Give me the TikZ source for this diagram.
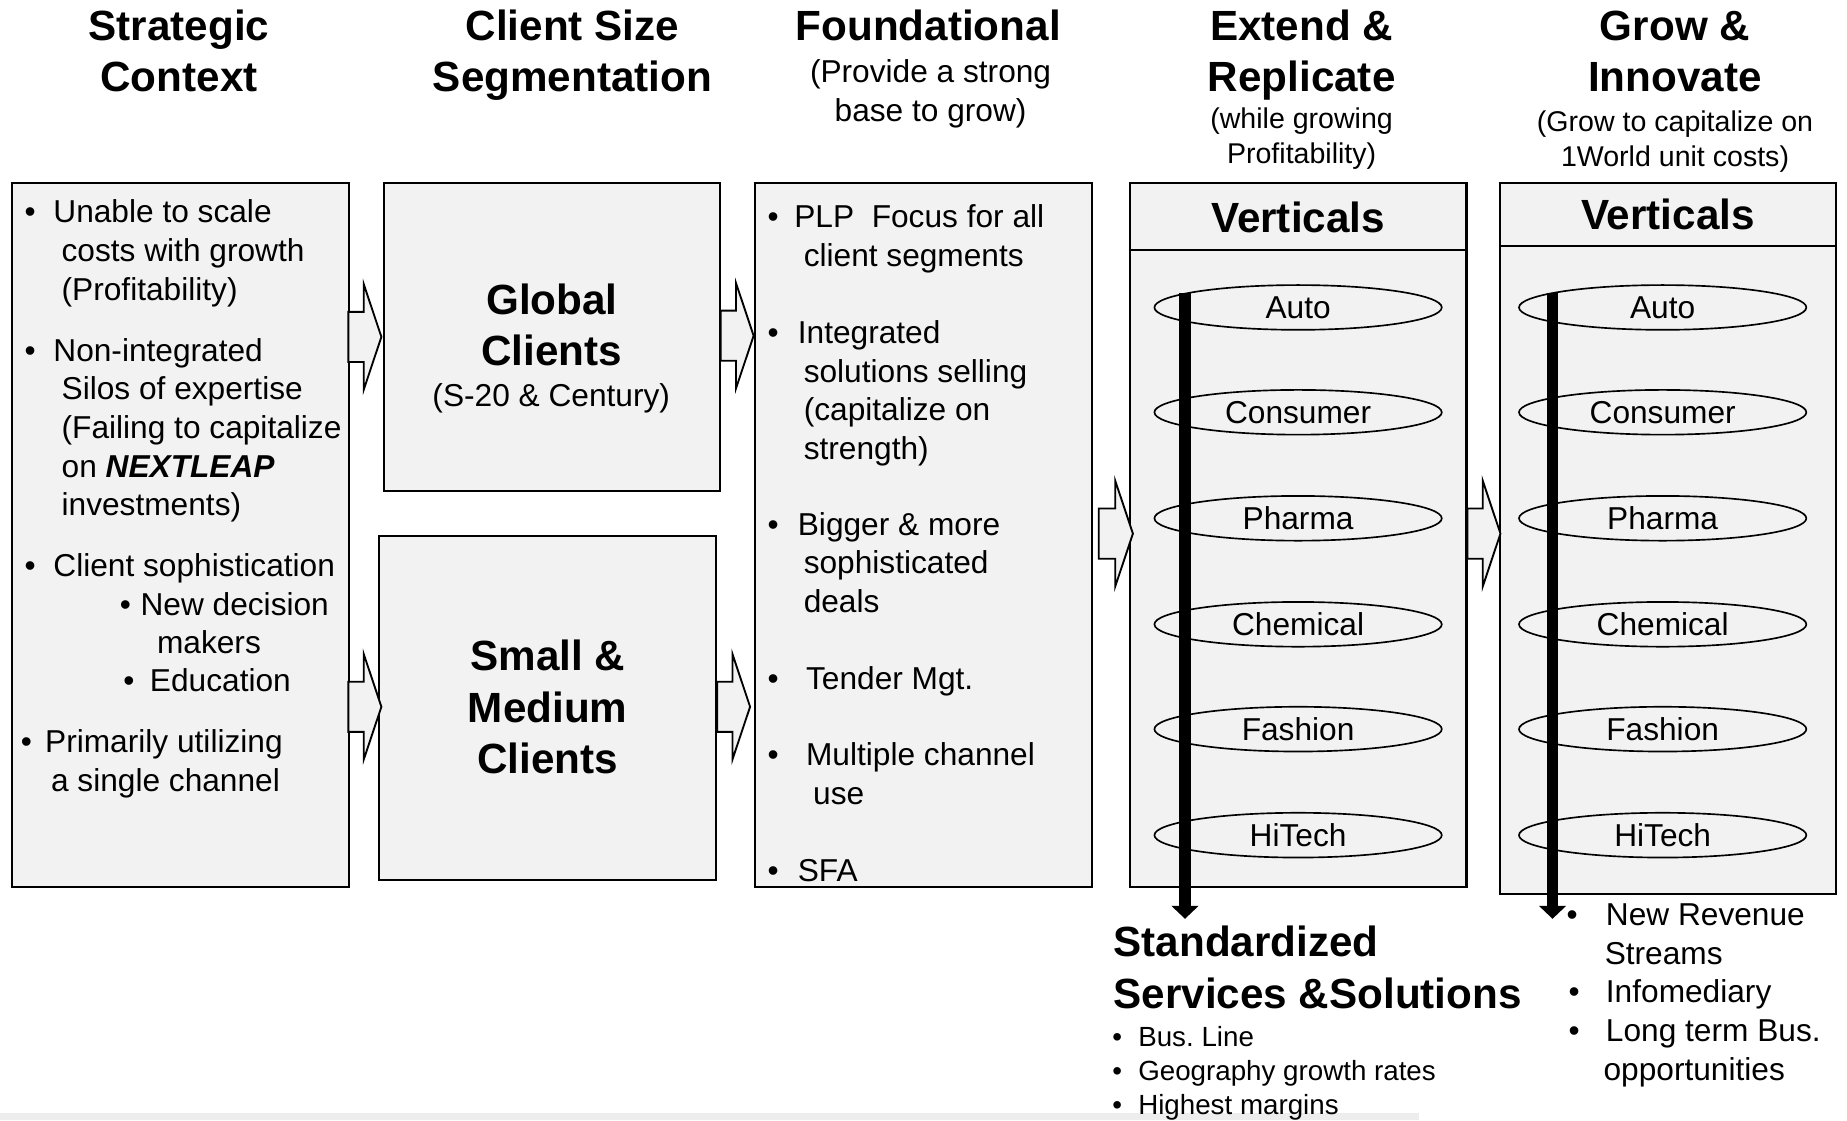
\documentclass[tikz,border=0pt]{standalone}
\usepackage{fontspec}
\setmainfont{Liberation Sans}
\usetikzlibrary{shapes.geometric,shapes.arrows,arrows.meta}

\definecolor{panelgray}{HTML}{F2F2F2}
\newcommand\hdrfont{\fontsize{20.4}{24.9}\selectfont\bfseries}
\newcommand\txtfont{\fontsize{15.3}{18.7}\selectfont}
\newcommand\subfont{\fontsize{13.8}{16.8}\selectfont}
\newcommand\smlfont{\fontsize{13.4}{16.4}\selectfont}
\newcommand\bul[1]{\llap{\textbullet\hspace{#1}}}
\newcommand\ind[1]{\hspace*{#1}}

\begin{document}
\begin{tikzpicture}[x=0.02cm, y=-0.02cm,
        panel/.style={rectangle, draw=black, line width=1pt, fill=panelgray, inner sep=0pt},
        hdr/.style={font=\hdrfont, align=center, anchor=base, inner sep=0pt},
        txt/.style={font=\txtfont, align=left, anchor=base west, inner sep=0pt},
        blockarrow/.style={single arrow, draw=black, line width=0.9pt, fill=panelgray,
            inner xsep=0pt, inner ysep=0.41cm, minimum height=0.56cm,
            single arrow head extend=0.47cm, single arrow tip angle=143, anchor=west},
        vert/.style={ellipse, draw=black, line width=0.8pt, minimum width=4.88cm, minimum height=0.76cm,
            inner sep=0pt, font=\txtfont, text height=11pt, text depth=0pt},
        bar/.style={line width=0.2cm, -{Triangle[width=0.45cm, length=0.22cm]}},
        ]
        \useasboundingbox (0,0) rectangle (1568,951);
        \fill[black!7] (0,945) rectangle (1205,951);

        % column headings (base = last line)
        \node (ctx-hdr) at (152,78) [hdr] {Strategic\\Context};
        \node (seg-hdr) at (486,78) [hdr] {Client Size\\Segmentation};
        \node (fnd-hdr) at (788,34) [hdr] {Foundational};
        \node (fnd-sub) at (790,103) [hdr, font=\txtfont] {(Provide a strong\\base to grow)};
        \node (ext-hdr) at (1105,78) [hdr] {Extend \&\\Replicate};
        \node (ext-sub) at (1105,139) [hdr, font=\subfont] {(while growing\\Profitability)};
        \node (grw-hdr) at (1422,78) [hdr] {Grow \&\\Innovate};
        \node (grw-sub) at (1422,141) [hdr, font=\subfont] {(Grow to capitalize on\\1World unit costs)};

        % boxes
        \node (ctx) at (153,454) [panel, minimum width=5.72cm, minimum height=11.96cm] {};
        \node (glob) at (468.5,286) [panel, minimum width=5.70cm, minimum height=5.24cm] {};
        \node (sme) at (465,601) [panel, minimum width=5.72cm, minimum height=5.84cm] {};
        \node (fnd) at (784,454) [panel, minimum width=5.72cm, minimum height=11.96cm] {};
        \node (v1) at (1102,454) [panel, minimum width=5.72cm, minimum height=11.96cm] {};
        \node (v2) at (1416,457) [panel, minimum width=5.72cm, minimum height=12.08cm] {};
        \draw[line width=1pt] (v1.west |- 0,212) -- (v1.east |- 0,212);
        \draw[line width=1pt] (v2.west |- 0,209) -- (v2.east |- 0,209);

        % block arrows
        \node (a1) at (295,286) [blockarrow] {};
        \node (a2) at (295,600) [blockarrow] {};
        \node (a3) at (611,285) [blockarrow] {};
        \node (a4) at (608,600) [blockarrow] {};
        \node (a5) at (932,453) [blockarrow, minimum height=0.58cm] {};
        \node (a6) at (1245,453) [blockarrow] {};

        % strategic context
        \node (c1) at (45,255) [txt] {\bul{0.3cm}Unable to scale\\\ind{0.14cm}costs with growth\\\ind{0.14cm}(Profitability)};
        \node (c2) at (45,438) [txt] {\bul{0.3cm}Non-integrated\\\ind{0.14cm}Silos of expertise\\\ind{0.14cm}(Failing to capitalize\\\ind{0.14cm}on \textbf{\textit{NEXTLEAP}}\\\ind{0.14cm}investments)};
        \node (c3) at (45,489) [txt] {\bul{0.3cm}Client sophistication};
        \node (c3a) at (119,555) [txt] {\bul{0.165cm}New decision\\\ind{0.28cm}makers};
        \node (c3b) at (127,587) [txt] {\bul{0.265cm}Education};
        \node (c4) at (38,672) [txt] {\bul{0.225cm}Primarily utilizing\\\ind{0.1cm}a single channel};

        % client segments
        \node (glob-title) at (468.5,310) [hdr, font=\fontsize{20.4}{24.4}\selectfont\bfseries] {Global\\Clients};
        \node (glob-sub) at (468,345) [hdr, font=\txtfont] {(S-20 \& Century)};
        \node (sme-title) at (465,657) [hdr] {Small \&\\Medium\\Clients};

        % foundational
        \node (f1) at (674,226) [txt] {\bul{0.265cm}PLP\ \ Focus for all\\\ind{0.16cm}client segments};
        \node (f2) at (677,390) [txt] {\bul{0.325cm}Integrated\\\ind{0.1cm}solutions selling\\\ind{0.1cm}(capitalize on\\\ind{0.1cm}strength)};
        \node (f3) at (677,520) [txt] {\bul{0.325cm}Bigger \& more\\\ind{0.1cm}sophisticated\\\ind{0.1cm}deals};
        \node (f4) at (684,585) [txt] {\bul{0.465cm}Tender Mgt.};
        \node (f5) at (684,683) [txt] {\bul{0.465cm}Multiple channel\\\ind{0.12cm}use};
        \node (f6) at (677,748) [txt] {\bul{0.325cm}SFA};

        % verticals
        \node (v1-title) at (1102,197) [hdr] {Verticals};
        \node (v2-title) at (1416,195) [hdr] {Verticals};
        \foreach \name/\yy in {Auto/261, Consumer/350, Pharma/440, Chemical/530, Fashion/619, HiTech/709} {
            \node (v1-\name) at (1102,\yy) [vert] {\name};
            \node (v2-\name) at (1411.5,\yy) [vert] {\name};
        }

        \coordinate (v1-top) at (1006,249);
        \coordinate (v1-end) at (1006,780);
        \coordinate (v2-top) at (1318,249);
        \coordinate (v2-end) at (1318,780);
        \draw[bar] (v1-top) -- (v1-end);
        \draw[bar] (v2-top) -- (v2-end);

        % outcomes
        \node (std) at (945,856) [hdr, anchor=base west, align=left] {Standardized\\Services \&Solutions};
        \node (std-list) at (966,946) [txt, font=\smlfont] {\bul{0.277cm}Bus.\ Line\\\bul{0.277cm}Geography growth rates\\\bul{0.277cm}Highest margins};
        \node (grw-list) at (1363,917) [txt] {\bul{0.48cm}New Revenue\\\ind{-0.02cm}Streams\\\bul{0.445cm}Infomediary\\\bul{0.445cm}Long term Bus.\\\ind{-0.04cm}opportunities};

    \end{tikzpicture}
\end{document}
